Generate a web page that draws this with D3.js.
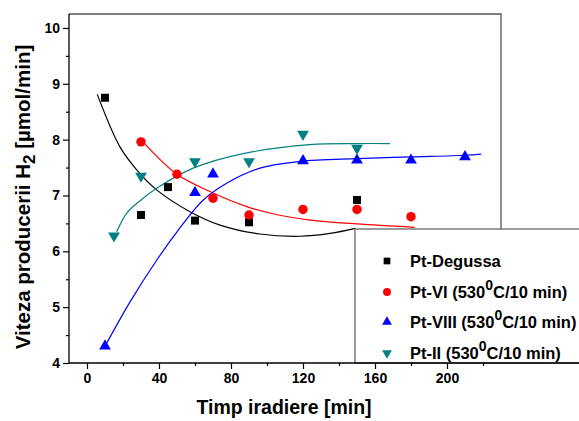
<!DOCTYPE html>
<html>
<head>
<meta charset="utf-8">
<script src="https://cdn.jsdelivr.net/npm/d3@7"></script>
<style>
    body { margin: 0; background: #fff; }
    text { font-family: "Liberation Sans", Arial, sans-serif; font-weight: bold; }
</style>
</head>
<body>
<div id="chart"></div>
<script>
// measured points (time [min], rate [umol/min])
let degussa = [[10, 8.75], [30, 6.65], [45, 7.15], [60, 6.55], [90, 6.52], [150, 6.92]];
let ptVI    = [[30, 7.96], [50, 7.38], [70, 6.95], [90, 6.65], [120, 6.75], [150, 6.75], [180, 6.62]];
let ptVIII  = [[10, 4.32], [60, 7.07], [70, 7.40], [120, 7.64], [150, 7.65], [180, 7.65], [210, 7.71]];
let ptII    = [[15, 6.26], [30, 7.33], [60, 7.59], [90, 7.59], [120, 8.08], [150, 7.83]];

// fitted curves
let fitDegussa = [[5.7, 8.81], [18.3, 7.87], [27.6, 7.46], [38.7, 7.10], [57.2, 6.71], [73.9, 6.47],
                  [96.1, 6.31], [118.3, 6.27], [135, 6.32], [149, 6.41]];
let fitVI      = [[32.2, 7.92], [50, 7.38], [68.3, 7.07], [88.7, 6.80], [105, 6.66], [123.9, 6.56],
                  [150, 6.49], [182, 6.43]];
let fitVIII    = [[10, 4.3], [24, 5.1], [38.7, 5.84], [50, 6.35], [64.6, 6.92], [77.6, 7.22],
                  [96.1, 7.49], [118.3, 7.61], [150, 7.66], [180, 7.69], [210, 7.72], [219, 7.74]];
let fitII      = [[16.5, 6.35], [22, 6.68], [30, 6.92], [38.7, 7.13], [59, 7.49], [86.8, 7.75],
                  [123.9, 7.91], [150, 7.93], [168.3, 7.93]];

let xTicks = [0, 40, 80, 120, 160, 200];
let yTicks = [4, 5, 6, 7, 8, 9, 10];

let legendNames = ["Pt-Degussa", "Pt-VI (530", "Pt-VIII (530", "Pt-II (530"];

let series = [
    {pts: degussa, fit: fitDegussa, color: "#000000", shape: d3.symbolSquare, size: 64, rot: 0},
    {pts: ptVI,    fit: fitVI,      color: "#ff0000", shape: d3.symbolCircle, size: 70, rot: 0},
    {pts: ptVIII,  fit: fitVIII,    color: "#0000ff", shape: d3.symbolTriangle, size: 60, rot: 0},
    {pts: ptII,    fit: fitII,      color: "#008080", shape: d3.symbolTriangle, size: 60, rot: 180}
];

let svg = d3.select("#chart").append("svg")
    .attr("width", 579)
    .attr("height", 421);

// scales
let x = d3.scaleLinear().domain([-10, 230]).range([69, 501]);
let y = d3.scaleLinear().domain([4, 10.25]).range([363, 14]);

// frame top & right
svg.append("path")
    .attr("d", `M${x(-10)},${y(10.25)}H${x(230)}V${y(4)}`)
    .attr("fill", "none")
    .attr("stroke", "#555")
    .attr("stroke-width", 1.3);

// fit lines
let line = d3.line()
    .curve(d3.curveCatmullRom)
    .x(d => x(d[0]))
    .y(d => y(d[1]));

series.forEach(s => {
    svg.append("path")
        .datum(s.fit)
        .attr("d", line)
        .attr("fill", "none")
        .attr("stroke", s.color)
        .attr("stroke-width", 1.2);
});

// markers
series.forEach(s => {
    svg.append("g").selectAll("path")
        .data(s.pts)
        .enter().append("path")
        .attr("d", d3.symbol().type(s.shape).size(s.size))
        .attr("transform", d => `translate(${x(d[0])},${y(d[1]) + (s.shape === d3.symbolTriangle ? (s.rot ? -1 : 1) : 0)}) rotate(${s.rot})`)
        .attr("fill", s.color);
});

// legend box
svg.append("rect")
    .attr("x", 355)
    .attr("y", 229)
    .attr("width", 240)
    .attr("height", 134)
    .attr("fill", "#fff")
    .attr("stroke", "#666")
    .attr("stroke-width", 1.3);

let legendY = [261, 292, 322, 353];
series.forEach((s, i) => {
    svg.append("path")
        .attr("d", d3.symbol().type(s.shape).size(s.size * 0.7))
        .attr("transform", `translate(387,${legendY[i]}) rotate(${s.rot})`)
        .attr("fill", s.color);
    let t = svg.append("text")
        .attr("x", 410)
        .attr("y", legendY[i] + 6)
        .attr("font-size", 16.5)
        .text(legendNames[i]);
    if (i > 0) {
        t.append("tspan").attr("dy", -8).attr("font-size", 14).text("0");
        t.append("tspan").attr("dy", 8).text("C/10 min)");
    }
});

// axes
let xAxis = svg.append("g")
    .attr("transform", `translate(0,${y(4)})`)
    .call(d3.axisBottom(x).tickValues(xTicks).tickSize(6).tickPadding(4).tickFormat(d3.format("d")));
svg.append("g")
    .attr("transform", `translate(0,${y(4)})`)
    .call(d3.axisBottom(x).tickValues(d3.range(20, 230, 40)).tickSize(3).tickFormat(""))
    .select(".domain").remove();

let yAxis = svg.append("g")
    .attr("transform", `translate(${x(-10)},0)`)
    .call(d3.axisLeft(y).tickValues(yTicks).tickSize(6).tickPadding(3).tickFormat(d3.format("d")));
svg.append("g")
    .attr("transform", `translate(${x(-10)},0)`)
    .call(d3.axisLeft(y).tickValues(d3.range(4.5, 10, 1)).tickSize(3).tickFormat(""))
    .select(".domain").remove();

// extend bottom axis line across legend
xAxis.select(".domain").attr("d", `M${x(-10)},0H579`);
yAxis.select(".domain").attr("d", `M0,${y(4)}V${y(10.25)}`);

svg.selectAll(".tick line").attr("stroke-width", 1.2);
svg.selectAll(".domain").attr("stroke-width", 1.3);
svg.selectAll(".tick text")
    .attr("font-size", 14)
    .attr("font-weight", "bold")
    .attr("font-family", "Liberation Sans, Arial, sans-serif");

// axis titles
svg.append("text")
    .attr("x", 284)
    .attr("y", 414)
    .attr("text-anchor", "middle")
    .attr("font-size", 19.5)
    .text("Timp iradiere [min]");

let yl = svg.append("text")
    .attr("transform", "translate(30,197) rotate(-90)")
    .attr("text-anchor", "middle")
    .attr("font-size", 20.5)
    .text("Viteza producerii H");
yl.append("tspan").attr("dy", 5).attr("font-size", 17).text("2");
yl.append("tspan").attr("dy", -5).text(" [\u00b5mol/min]");
</script>
</body>
</html>
